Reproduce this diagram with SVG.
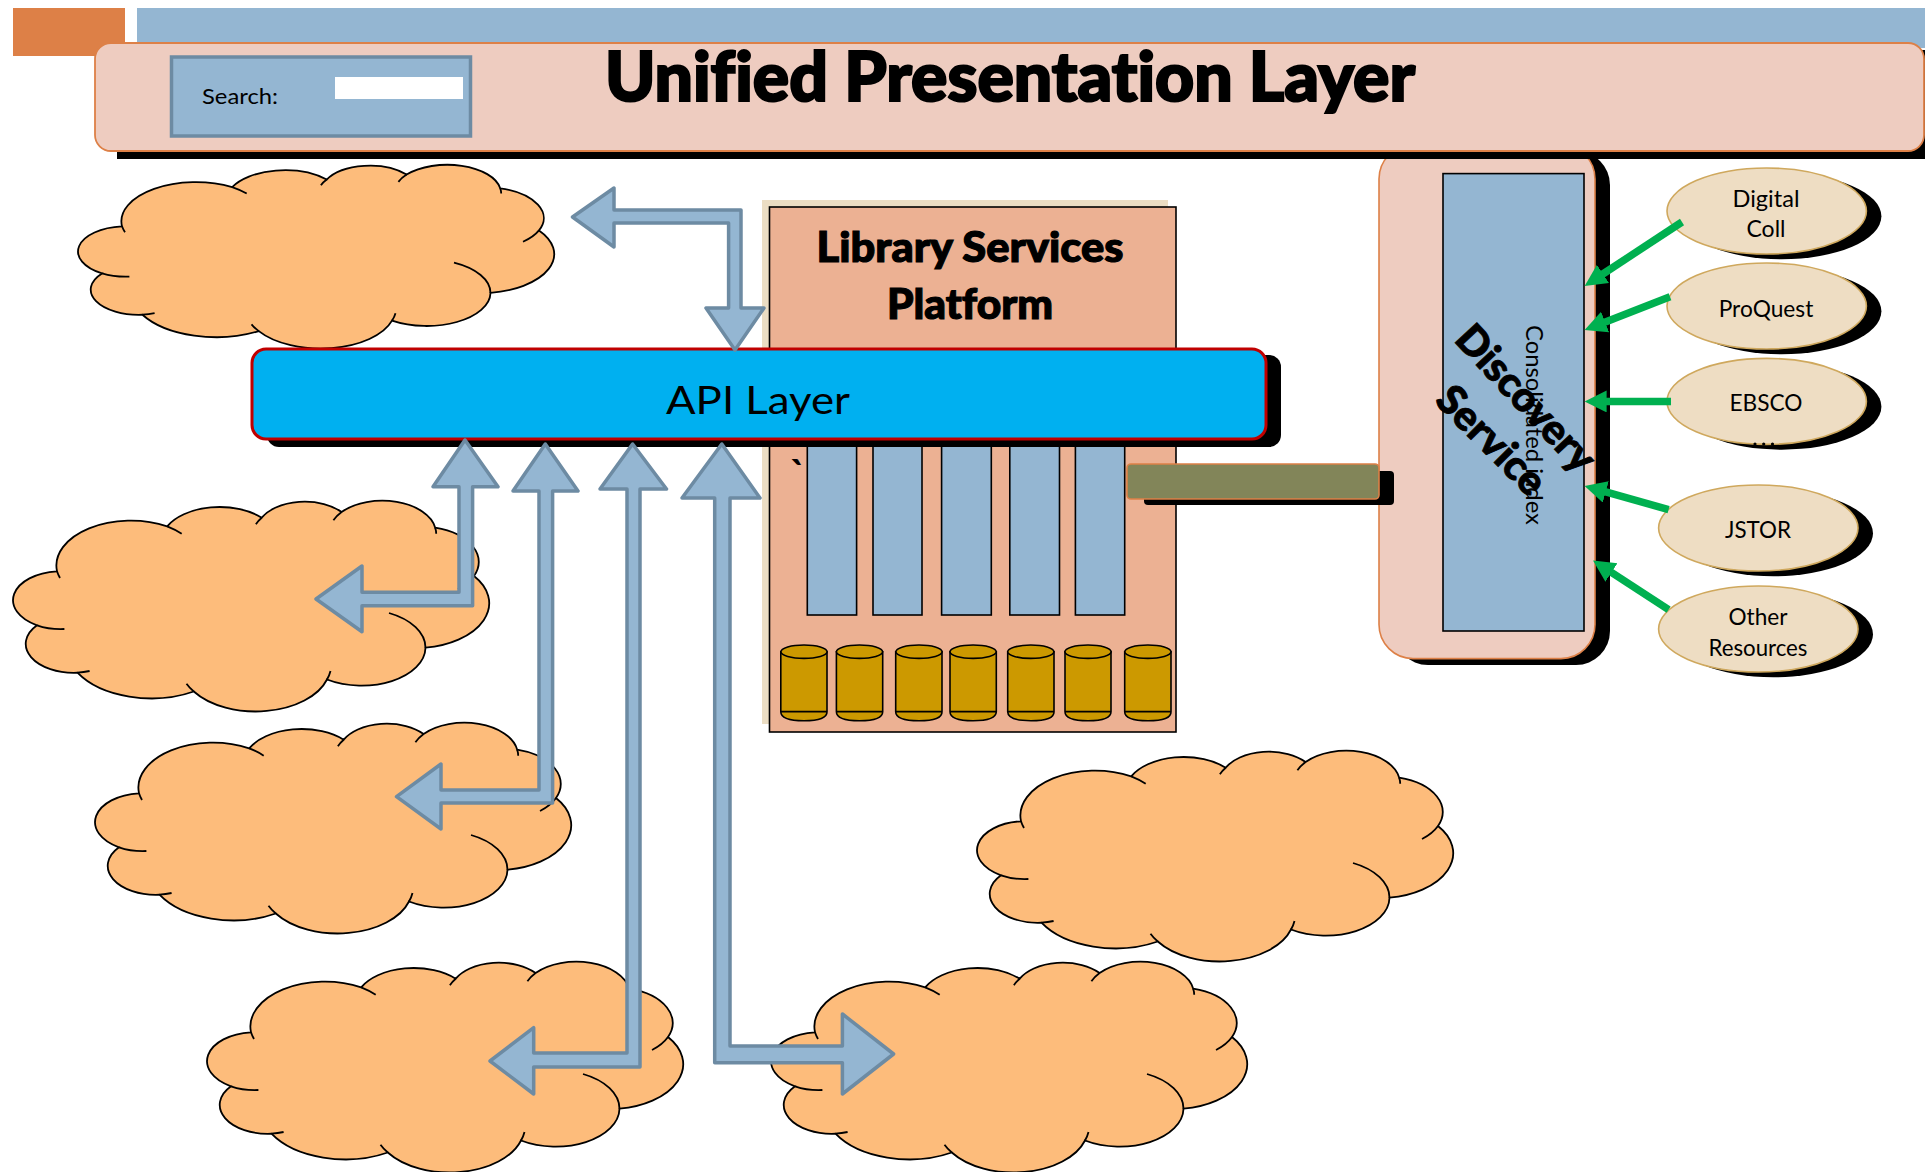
<svg xmlns="http://www.w3.org/2000/svg" width="1932" height="1172" viewBox="0 0 1932 1172">
<style>
text{font-family:"Lato","Liberation Sans",sans-serif;fill:#000;font-variant-ligatures:none}
.cloud{fill:#FDBC7B;stroke:#000;stroke-width:1.8;vector-effect:non-scaling-stroke}
.tick{fill:none;stroke:#000;stroke-width:1.8;vector-effect:non-scaling-stroke}
.arr{fill:#94B6D2;stroke:#6D8BA3;stroke-width:3.5;stroke-linejoin:round}
.sh{fill:#000}
.col{fill:#94B6D2;stroke:#000;stroke-width:1.6}
.cyl{fill:#CC9900;stroke:#000;stroke-width:1.6}
.oval{fill:#EEDDC3;stroke:#CFA85D;stroke-width:1.6}
.lab{font-size:23px;text-anchor:middle}
.green{fill:none;stroke:#00B050;stroke-width:7.5;marker-end:url(#gh)}
.hb{font-weight:900;stroke:#000}
</style>
<defs>
<marker id="gh" markerUnits="userSpaceOnUse" markerWidth="24" markerHeight="23" refX="12" refY="11" orient="auto"><path d="M0 0L22 11L0 22Z" fill="#00B050"/></marker>
<g id="cl">
<path class="cloud" d="M44 70.3A74.6 44.9 0 0 1 154.2 25.3A58.9 35.5 0 0 1 248.7 16.7A48.2 29 0 0 1 328.6 11A53.6 32.2 0 0 1 422.2 26.7A58.9 35.5 0 0 1 461 75A74.8 45 0 0 1 412.5 146.7A63.9 38.4 0 0 1 314 178.5A74.5 45 0 0 1 180.8 190.5A85.2 51.5 0 0 1 64.5 171.7A48.1 28.9 0 0 1 24 124.3A48 29 0 0 1 44 70.3Z"/>
<path class="tick" d="M47 77A74.6 44.9 0 0 1 44 70.3M154.2 25.3A74.6 44.9 0 0 1 168.7 32.7M242.9 23.3A48.2 29 0 0 1 248.7 16.7M320.4 19.3A53.6 32.2 0 0 1 328.6 11M422.2 26.7A53.6 32.2 0 0 1 423.2 32.7M461 75A58.9 35.5 0 0 1 445 88M376 112A63.9 38.4 0 0 1 412.5 146.7M317.5 170A74.5 45 0 0 1 314 178.5M180.8 190.5A74.5 45 0 0 1 173.5 182.7M76.6 170A48.1 28.9 0 0 1 64.5 171.7M51.4 128A48 29 0 0 1 24 124.3"/>
</g>
</defs>
<rect width="1932" height="1172" fill="#fff"/>
<g id="accent-orange"><rect x="13" y="8" width="112" height="48" fill="#DD8047"/></g>
<g id="accent-blue"><rect x="137" y="8" width="1788" height="40" fill="#94B6D2"/></g>

<g id="cloud-1"><use href="#cl" transform="translate(78 165) scale(1 .872)"/></g>
<g id="cloud-2"><use href="#cl" transform="translate(13 501)"/></g>
<g id="cloud-3"><use href="#cl" transform="translate(95 723)"/></g>
<g id="cloud-4"><use href="#cl" transform="translate(207 962)"/></g>
<g id="cloud-5"><use href="#cl" transform="translate(771 962)"/></g>
<g id="cloud-6"><use href="#cl" transform="translate(977 751)"/></g>

<g id="lsp">
<rect x="762" y="200" width="406" height="524" fill="#EBDDC3"/>
<rect x="769.5" y="207" width="406.5" height="525" fill="#ECB193" stroke="#000" stroke-width="1.6"/>
<text x="970" y="262" font-size="42" text-anchor="middle" class="hb" stroke-width="1.2" textLength="307" lengthAdjust="spacingAndGlyphs">Library Services</text>
<text x="970" y="319" font-size="42" text-anchor="middle" class="hb" stroke-width="1.2" textLength="166" lengthAdjust="spacingAndGlyphs">Platform</text>
<text x="790" y="489" font-size="40" font-weight="700">`</text>
<rect class="col" x="807.3" y="440" width="49.3" height="175"/>
<rect class="col" x="873" y="440" width="49" height="175"/>
<rect class="col" x="941.6" y="440" width="49.7" height="175"/>
<rect class="col" x="1009.8" y="440" width="49.7" height="175"/>
<rect class="col" x="1075.4" y="440" width="49.3" height="175"/>
<g id="cylinders">
<path class="cyl" d="M780.8 651.7V711.7Q780.8 720.7 804 720.7T827 711.7V651.7Z"/><ellipse class="cyl" cx="804" cy="651.7" rx="23.1" ry="6.7"/><path class="tick" d="M780.8 711.7H827"/>
<path class="cyl" d="M836.4 651.7V711.7Q836.4 720.7 859.5 720.7T882.7 711.7V651.7Z"/><ellipse class="cyl" cx="859.5" cy="651.7" rx="23.1" ry="6.7"/><path class="tick" d="M836.4 711.7H882.7"/>
<path class="cyl" d="M895.7 651.7V711.7Q895.7 720.7 919 720.7T942 711.7V651.7Z"/><ellipse class="cyl" cx="919" cy="651.7" rx="23.1" ry="6.7"/><path class="tick" d="M895.7 711.7H942"/>
<path class="cyl" d="M950 651.7V711.7Q950 720.7 973 720.7T996.3 711.7V651.7Z"/><ellipse class="cyl" cx="973.1" cy="651.7" rx="23.1" ry="6.7"/><path class="tick" d="M950 711.7H996.3"/>
<path class="cyl" d="M1007.7 651.7V711.7Q1007.7 720.7 1031 720.7T1054 711.7V651.7Z"/><ellipse class="cyl" cx="1030.8" cy="651.7" rx="23.1" ry="6.7"/><path class="tick" d="M1007.7 711.7H1054"/>
<path class="cyl" d="M1065 651.7V711.7Q1065 720.7 1088 720.7T1111 711.7V651.7Z"/><ellipse class="cyl" cx="1088" cy="651.7" rx="23.1" ry="6.7"/><path class="tick" d="M1065 711.7H1111"/>
<path class="cyl" d="M1124.7 651.7V711.7Q1124.7 720.7 1148 720.7T1171 711.7V651.7Z"/><ellipse class="cyl" cx="1147.9" cy="651.7" rx="23.1" ry="6.7"/><path class="tick" d="M1124.7 711.7H1171"/>
</g>
</g>

<g id="discovery">
<rect class="sh" x="1394" y="151" width="216" height="514" rx="34"/>
<rect x="1379" y="145" width="216" height="513.6" rx="34" fill="#EECCC0" stroke="#DD8047" stroke-width="1.6"/>
<rect class="col" x="1443" y="173.6" width="141" height="457.4"/>
<text transform="translate(1526 325) rotate(90)" font-size="24" textLength="200" lengthAdjust="spacingAndGlyphs">Consolidated index</text>
<text transform="translate(1453 340.5) rotate(47)" font-size="41" class="hb" stroke-width=".9" textLength="184" lengthAdjust="spacingAndGlyphs">Discovery</text>
<text transform="translate(1433.4 402) rotate(45)" font-size="41" class="hb" stroke-width=".9" textLength="136" lengthAdjust="spacingAndGlyphs">Service</text>
</g>

<g id="bridge">
<rect class="sh" x="1144" y="471" width="250" height="34" rx="4"/>
<rect x="1127" y="464" width="252" height="35" rx="4" fill="#828559" stroke="#DD8047" stroke-width="1.6"/>
</g>

<g id="api">
<rect class="sh" x="267" y="355" width="1014" height="92" rx="12"/>
<rect x="252" y="349" width="1014" height="90" rx="14" fill="#00B0F0" stroke="#C00000" stroke-width="3"/>
<text x="758" y="414" font-size="38" text-anchor="middle" textLength="184" lengthAdjust="spacingAndGlyphs">API Layer</text>
</g>

<g id="presentation">
<rect class="sh" x="117" y="50" width="1808" height="109"/>
<rect x="95" y="43" width="1829" height="108" rx="16" fill="#EECCC0" stroke="#DD8047" stroke-width="1.8"/>
<text x="1010" y="101" font-size="68" text-anchor="middle" class="hb" stroke-width="2.2" textLength="810" lengthAdjust="spacingAndGlyphs">Unified Presentation Layer</text>
</g>
<g id="search">
<rect x="171.5" y="57" width="299" height="79" fill="#94B6D2" stroke="#6D8BA3" stroke-width="3.5"/>
<rect x="335" y="77" width="128" height="22" fill="#fff"/>
<text x="202" y="104" font-size="22" textLength="76" lengthAdjust="spacingAndGlyphs">Search:</text>
</g>

<g id="sources">
<g id="digital"><ellipse class="sh" cx="1781.7" cy="216.3" rx="99.7" ry="43"/><ellipse class="oval" cx="1766.7" cy="211" rx="99.7" ry="43"/><text class="lab" x="1766" y="206.8" textLength="67" lengthAdjust="spacingAndGlyphs">Digital</text><text class="lab" x="1766" y="237" textLength="39" lengthAdjust="spacingAndGlyphs">Coll</text></g>
<g id="proquest"><ellipse class="sh" cx="1781.7" cy="311.3" rx="99.7" ry="43"/><ellipse class="oval" cx="1766.7" cy="306" rx="99.7" ry="43"/><text class="lab" x="1766" y="316.8" textLength="94.6" lengthAdjust="spacingAndGlyphs">ProQuest</text></g>
<g id="ebsco"><ellipse class="sh" cx="1781.7" cy="406.7" rx="99.7" ry="43"/><ellipse class="oval" cx="1766.7" cy="401.4" rx="99.7" ry="43"/><text class="lab" x="1766" y="411.4" textLength="73" lengthAdjust="spacingAndGlyphs">EBSCO</text><circle class="sh" cx="1755" cy="444" r="1.6"/><circle class="sh" cx="1763.7" cy="444" r="1.6"/><circle class="sh" cx="1772.5" cy="444" r="1.6"/></g>
<g id="jstor"><ellipse class="sh" cx="1773.3" cy="533.3" rx="99.7" ry="43"/><ellipse class="oval" cx="1758.3" cy="528" rx="99.7" ry="43"/><text class="lab" x="1758" y="538" textLength="66" lengthAdjust="spacingAndGlyphs">JSTOR</text></g>
<g id="other"><ellipse class="sh" cx="1773.3" cy="634.3" rx="99.7" ry="43"/><ellipse class="oval" cx="1758.3" cy="629" rx="99.7" ry="43"/><text class="lab" x="1758" y="624.6" textLength="59" lengthAdjust="spacingAndGlyphs">Other</text><text class="lab" x="1758" y="656" textLength="99" lengthAdjust="spacingAndGlyphs">Resources</text></g>
</g>

<g id="connectors">
<path class="green" d="M1682 222L1593 280.5"/>
<path class="green" d="M1670 296.8L1593.9 326.4"/>
<path class="green" d="M1671 401.4L1594.6 401.4"/>
<path class="green" d="M1668.6 509.6L1594.2 488.7"/>
<path class="green" d="M1668.6 609.6L1601.4 565.9"/>
<polygon class="arr" points="572.5,217 614,188 614,210 741,210 741,308 764,308 735,350 706,308 728.6,308 728.6,223 614,223 614,247"/>
<polygon class="arr" points="465,440 498,486.7 472.6,486.7 472.6,605.7 362,605.7 362,631.7 316,599 362,566 362,592.3 459,592.3 459,486.7 433,486.7"/>
<polygon class="arr" points="545.3,444 578,491 552.6,491 552.6,803 441,803 441,829 396.5,796.7 441,764 441,790 539,790 539,491 513,491"/>
<polygon class="arr" points="632.6,444 666.5,489 640,489 640,1067 533.7,1067 533.7,1094 490,1061 533.7,1027.7 533.7,1053 627,1053 627,489 600,489"/>
<polygon class="arr" points="721.8,444 760,498 730,498 730,1046 842.4,1046 842.4,1014 893.6,1054 842.4,1094 842.4,1062.7 714.7,1062.7 714.7,498 682,498"/>
</g>
</svg>
